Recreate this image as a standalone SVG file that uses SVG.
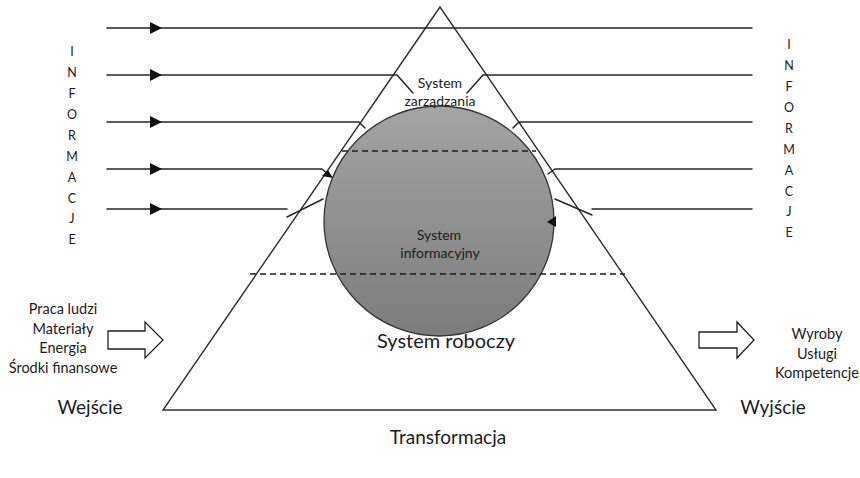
<svg xmlns="http://www.w3.org/2000/svg" xmlns:xlink="http://www.w3.org/1999/xlink" width="860" height="478" viewBox="0 0 860 478">
  <style>
    .edge { fill: none; stroke: #262626; stroke-width: 1.5; stroke-linecap: round; stroke-linejoin: round; }
    .thin { fill: none; stroke: #2e2e2e; stroke-width: 1.4; }
    .dash { fill: none; stroke: #1e1e1e; stroke-width: 1.3; stroke-dasharray: 6 4; }
    .head { fill: #111; stroke: none; }
    .big { fill: #fff; stroke: #222; stroke-width: 1.3; }
    text { font-family: Lato, "Open Sans", "Liberation Sans", sans-serif; fill: #1c1c1c; text-anchor: middle; }
    .s12 { font-size: 12.5px; }
    .s14 { font-size: 14px; }
    .s145 { font-size: 14.5px; }
    .s19 { font-size: 19px; }
    .s20 { font-size: 20px; }
  </style>
  <defs>
    <linearGradient id="sphere" x1="0" y1="0" x2="0" y2="1">
      <stop offset="0" stop-color="#a4a4a4"/>
      <stop offset="1" stop-color="#7c7c7c"/>
    </linearGradient>
    <!-- filled arrowhead, tip at origin, pointing right -->
    <path id="tri" d="M0,0 L-12,-6 L-12,6 Z"/>
  </defs>

  <rect width="860" height="478" fill="#fff"/>

  <!-- transformation pyramid -->
  <g id="pyramid">
    <polygon class="thin" points="440,7 163,410 716,410" stroke-linejoin="miter"/>
  </g>

  <!-- information system sphere -->
  <g id="information-system">
    <circle cx="439" cy="221" r="115" fill="url(#sphere)" stroke="#333" stroke-width="1.3"/>
    <text class="s14" x="439" y="240">System</text>
    <text class="s14" x="440" y="258">informacyjny</text>
  </g>

  <!-- layer boundaries -->
  <g id="layers">
    <line class="dash" x1="342" y1="151" x2="536" y2="151"/>
    <line class="dash" x1="250" y1="274" x2="625" y2="274"/>
  </g>

  <g id="management-system">
    <text class="s14" x="440" y="88">System</text>
    <text class="s14" x="440" y="106">zarządzania</text>
  </g>

  <g id="working-system">
    <text class="s20" x="446" y="348">System roboczy</text>
  </g>

  <!-- information flows -->
  <g id="connectors">
    <!-- left side: incoming information -->
    <polyline class="edge" points="107,28 752,28"/>
    <polyline class="edge" points="107,75 397,75 413,93"/>
    <polyline class="edge" points="107,122 359,122 365,128"/>
    <polyline class="edge" points="107,169 322,169 329,175"/>
    <polyline class="edge" points="107,209 287,209"/>
    <line class="edge" x1="287" y1="217" x2="323" y2="199"/>
    <use xlink:href="#tri" class="head" x="162" y="28"/>
    <use xlink:href="#tri" class="head" x="162" y="75"/>
    <use xlink:href="#tri" class="head" x="162" y="122"/>
    <use xlink:href="#tri" class="head" x="162" y="169"/>
    <use xlink:href="#tri" class="head" x="162" y="209"/>
    <path class="head" d="M333,178 L322,176 L328,170 Z"/>

    <!-- right side: outgoing information -->
    <polyline class="edge" points="752,75 483,75 467,93"/>
    <polyline class="edge" points="752,122 519,122 513,128"/>
    <polyline class="edge" points="752,169 555,169 548,174"/>
    <polyline class="edge" points="752,209 592,209"/>
    <line class="edge" x1="555" y1="199" x2="592" y2="215"/>
    <path class="head" d="M547,222 L556,216 L556,227 Z"/>

    <!-- material flows -->
    <path class="big" d="M108,331 L145,331 L145,322 L163,340 L145,358 L145,349 L108,349 Z"/>
    <path class="big" d="M699,332 L737,332 L737,322 L754,340 L737,358 L737,348 L699,348 Z"/>
  </g>

  <!-- INFORMACJE, left column -->
  <g id="info-left" class="s12">
    <text x="72" y="56">I</text>
    <text x="72" y="77">N</text>
    <text x="72" y="98">F</text>
    <text x="72" y="119">O</text>
    <text x="72" y="140">R</text>
    <text x="72" y="161">M</text>
    <text x="72" y="182">A</text>
    <text x="72" y="203">C</text>
    <text x="72" y="223">J</text>
    <text x="72" y="244">E</text>
  </g>

  <!-- INFORMACJE, right column -->
  <g id="info-right" class="s12">
    <text x="789" y="49">I</text>
    <text x="789" y="70">N</text>
    <text x="789" y="91">F</text>
    <text x="789" y="112">O</text>
    <text x="789" y="133">R</text>
    <text x="789" y="154">M</text>
    <text x="789" y="175">A</text>
    <text x="789" y="196">C</text>
    <text x="789" y="216">J</text>
    <text x="789" y="237">E</text>
  </g>

  <g id="inputs" class="s145">
    <text x="63" y="314">Praca ludzi</text>
    <text x="63" y="334">Materiały</text>
    <text x="63" y="353">Energia</text>
    <text x="63" y="373">Środki finansowe</text>
  </g>

  <g id="outputs" class="s145">
    <text x="817" y="339">Wyroby</text>
    <text x="817" y="359">Usługi</text>
    <text x="817" y="378">Kompetencje</text>
  </g>

  <g id="input-label"><text class="s19" x="90" y="414">Wejście</text></g>
  <g id="output-label"><text class="s19" x="773" y="414">Wyjście</text></g>
  <g id="transformation-label"><text class="s19" x="448" y="444">Transformacja</text></g>
</svg>
